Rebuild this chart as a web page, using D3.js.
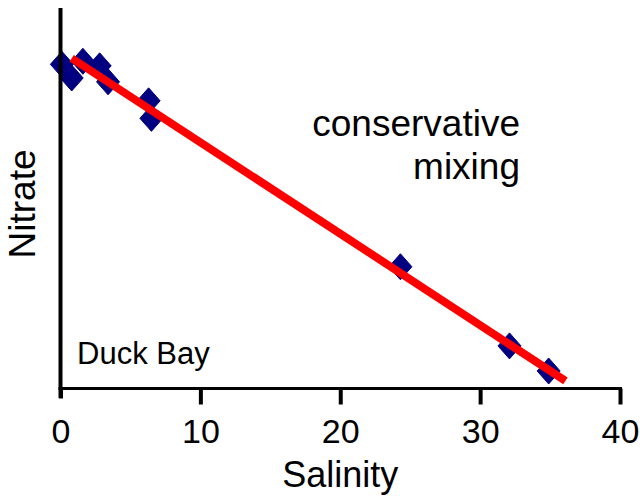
<!DOCTYPE html>
<html>
<head>
<meta charset="utf-8">
<script src="https://cdn.jsdelivr.net/npm/d3@7"></script>
<style>
  html, body { margin: 0; padding: 0; background: #fff; }
  svg { display: block; font-family: "Liberation Sans", Arial, Helvetica, sans-serif; }
</style>
</head>
<body>
<svg id="chart" width="640" height="499"></svg>
<script>
// Salinity (x) and nitrate (y) of the Duck Bay samples
const salinity = [0.1, 0.8, 1.6, 2.8, 3.4, 6.3, 6.5, 24.3, 32.1, 34.9];
const nitrate  = [42.6, 40.8, 43.0, 42.4, 40.3, 37.8, 35.5, 16.0, 5.6, 2.3];

// Conservative mixing line: end points in (salinity, nitrate)
const mixSalinity = [0.8, 36.1];
const mixNitrate  = [43.4, 1.0];

const xTicks = [0, 10, 20, 30, 40];

const svg = d3.select("#chart");

const x = d3.scaleLinear().domain([0, 40]).range([60.5, 620]);
const y = d3.scaleLinear().domain([0, 50]).range([388.5, 8]);

// Sample points as diamonds
const dw = 11.5, dh = 13;
const diamond = `M0,${-dh}L${dw},0L0,${dh}L${-dw},0Z`;
svg.append("g").selectAll("path")
  .data(salinity.map((s, i) => [s, nitrate[i]]))
  .join("path")
  .attr("d", diamond)
  .attr("transform", d => `translate(${x(d[0])},${y(d[1])})`)
  .attr("fill", "#000080")
  .attr("stroke", "#000080")
  .attr("stroke-width", 1)
  .attr("stroke-linejoin", "round");

// Mixing line
svg.append("path")
  .datum(mixSalinity.map((s, i) => [s, mixNitrate[i]]))
  .attr("d", d3.line().x(d => x(d[0])).y(d => y(d[1])))
  .attr("stroke", "#ff0000")
  .attr("stroke-width", 8)
  .attr("fill", "none");

// Y axis: plain line, no ticks
svg.append("line")
  .attr("x1", x(0)).attr("x2", x(0))
  .attr("y1", 8).attr("y2", 398)
  .attr("stroke", "#000").attr("stroke-width", 4);

// X axis
const xAxis = svg.append("g")
  .attr("transform", `translate(0,${y(0)})`)
  .call(d3.axisBottom(x).tickValues(xTicks).tickSize(16).tickSizeOuter(0));
xAxis.select(".domain")
  .attr("stroke", "#000").attr("stroke-width", 3)
  .attr("d", `M${x(0) - 2},0H${x(40) + 2}`);
xAxis.selectAll(".tick line")
  .attr("stroke", "#000").attr("stroke-width", 4)
  .attr("y2", d => d === 0 ? 10 : 16);
xAxis.selectAll(".tick text")
  .attr("fill", "#000")
  .attr("font-size", 34)
  .attr("font-family", "'Liberation Sans', Arial, sans-serif")
  .attr("y", 54)
  .attr("dy", 0);

// Axis titles
svg.append("text")
  .attr("x", x(20)).attr("y", 487)
  .attr("text-anchor", "middle")
  .attr("font-size", 36)
  .text("Salinity");

svg.append("text")
  .attr("transform", "translate(35,204) rotate(-90)")
  .attr("text-anchor", "middle")
  .attr("font-size", 37)
  .text("Nitrate");

// Annotations
svg.append("text")
  .attr("x", 77).attr("y", 364)
  .attr("font-size", 31)
  .text("Duck Bay");

const note = svg.append("text")
  .attr("text-anchor", "end")
  .attr("font-size", 37);
note.append("tspan").attr("x", 520).attr("y", 136).text("conservative");
note.append("tspan").attr("x", 520).attr("y", 179).text("mixing");
</script>
</body>
</html>
